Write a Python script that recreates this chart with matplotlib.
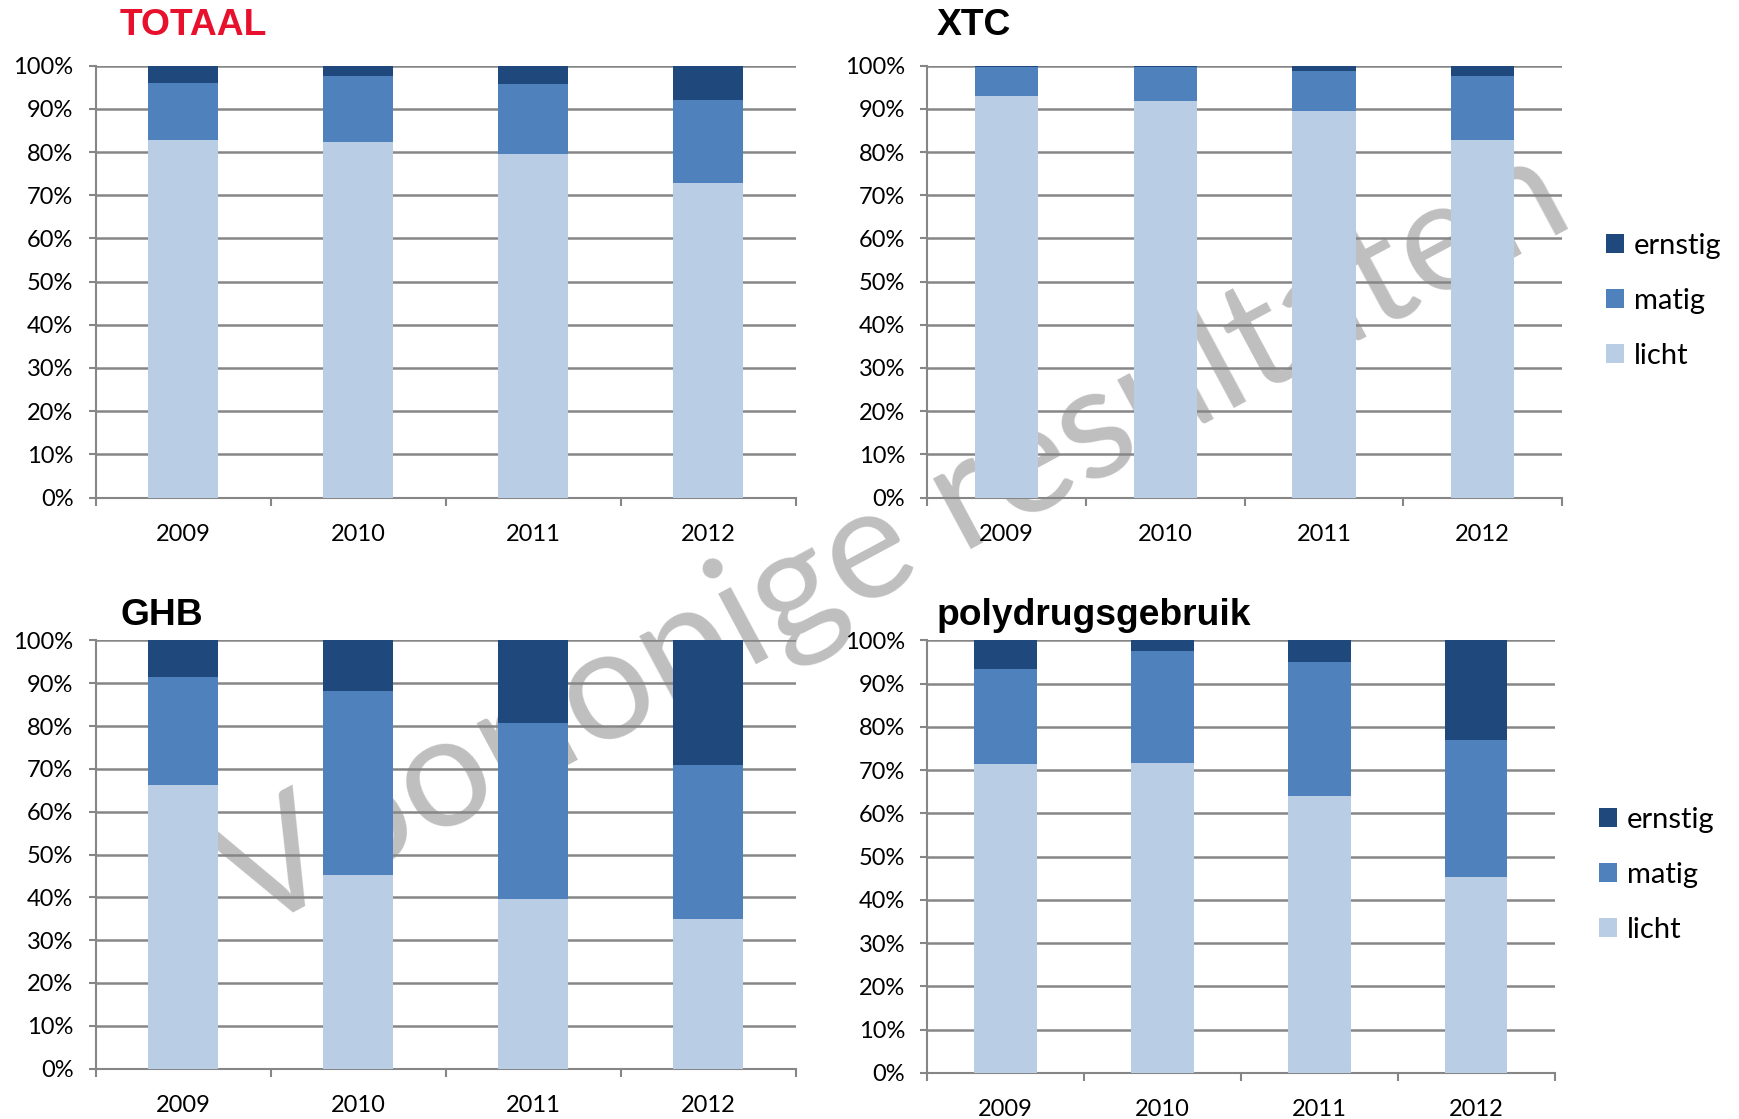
import matplotlib
matplotlib.use("Agg")
import matplotlib.pyplot as plt
from matplotlib.patches import Patch
from matplotlib.ticker import PercentFormatter

# data (percentages)
years = ["2009", "2010", "2011", "2012"]

totaal_licht = [82.9, 82.3, 79.6, 72.8]
totaal_matig = [13.2, 15.4, 16.2, 19.2]
totaal_ernstig = [3.9, 2.3, 4.2, 8.0]

xtc_licht = [93.0, 91.9, 89.5, 82.9]
xtc_matig = [6.6, 7.9, 9.3, 14.7]
xtc_ernstig = [0.4, 0.2, 1.2, 2.4]

ghb_licht = [66.2, 45.2, 39.7, 34.9]
ghb_matig = [25.2, 42.9, 40.9, 36.0]
ghb_ernstig = [8.6, 11.9, 19.4, 29.1]

poly_licht = [71.5, 71.7, 64.0, 45.3]
poly_matig = [21.9, 25.9, 31.0, 31.6]
poly_ernstig = [6.6, 2.4, 5.0, 23.1]

labels = ["licht", "matig", "ernstig"]
colors = ["#B9CDE5", "#4F81BD", "#1F497D"]
grid_col = "#868686"

W, H = 1739, 1119
fig = plt.figure(figsize=(W / 100, H / 100), dpi=100)

# watermark (behind the bars)
fig.text(252 / W, 1 - 934 / H, "Voorlopige resultaten", fontsize=114,
         family="Lato", color="#BFBFBF", rotation=28.2,
         rotation_mode="anchor", ha="left", va="baseline", zorder=-1)

panels = [
    ("TOTAAL", "#E8112D", totaal_licht, totaal_matig, totaal_ernstig,
     [95.7, 796, 65.7, 497.5], (120, 35)),
    ("XTC", "black", xtc_licht, xtc_matig, xtc_ernstig,
     [927.3, 1562, 65.7, 497.5], (937, 35)),
    ("GHB", "black", ghb_licht, ghb_matig, ghb_ernstig,
     [95.7, 796, 640.4, 1068.6], (120, 625)),
    ("polydrugsgebruik", "black", poly_licht, poly_matig, poly_ernstig,
     [927.3, 1554.5, 640.4, 1072.8], (937, 625)),
]

axes = []
for title, tcol, licht, matig, ernstig, box, tpos in panels:
    x0, x1, y0, y1 = box
    ax = fig.add_axes([x0 / W, 1 - y1 / H, (x1 - x0) / W, (y1 - y0) / H])
    ax.set_facecolor("none")
    x = range(len(years))
    ax.bar(x, licht, 0.4, color=colors[0], zorder=3)
    ax.bar(x, matig, 0.4, bottom=licht, color=colors[1], zorder=3)
    bot = [a + b for a, b in zip(licht, matig)]
    ax.bar(x, ernstig, 0.4, bottom=bot, color=colors[2], zorder=3)

    ax.set_xlim(-0.5, len(years) - 0.5)
    ax.set_ylim(0, 100)
    ax.set_yticks(range(0, 101, 10))
    ax.yaxis.set_major_formatter(PercentFormatter(decimals=0))
    ax.set_xticks(list(x))
    ax.set_xticklabels(years)
    ax.set_xticks([i - 0.5 for i in range(len(years) + 1)], minor=True)
    ax.tick_params(axis="x", which="major", length=0, pad=19)
    ax.tick_params(axis="x", which="minor", length=5.5, width=1.5, color=grid_col)
    ax.tick_params(axis="y", length=5, width=1.5, color=grid_col, pad=11)
    for lab in ax.get_xticklabels() + ax.get_yticklabels():
        lab.set_fontfamily("Lato")
        lab.set_fontsize(17)
    ax.grid(axis="y", color=grid_col, linewidth=1.8, zorder=0)
    ax.set_axisbelow(True)
    for s in ["top", "right"]:
        ax.spines[s].set_visible(False)
    for s in ["left", "bottom"]:
        ax.spines[s].set_color(grid_col)
        ax.spines[s].set_linewidth(1.5)

    fig.text(tpos[0] / W, 1 - tpos[1] / H, title, fontsize=26.8,
             family="Liberation Sans", fontweight="bold", color=tcol,
             ha="left", va="baseline")
    axes.append(ax)

handles = [Patch(facecolor=colors[i], label=labels[i]) for i in [2, 1, 0]]
for ax, lx, ly in [(axes[1], 1606, 301), (axes[3], 1599, 875)]:
    leg = ax.legend(handles=handles, loc="center left",
                    bbox_to_anchor=(lx / W, 1 - ly / H),
                    bbox_transform=fig.transFigure, frameon=False,
                    borderpad=0, borderaxespad=0, handlelength=0.62,
                    handleheight=0.62, handletextpad=0.33, labelspacing=1.0,
                    prop={"family": "Lato", "size": 21})

fig.savefig("out.png", dpi=100)
